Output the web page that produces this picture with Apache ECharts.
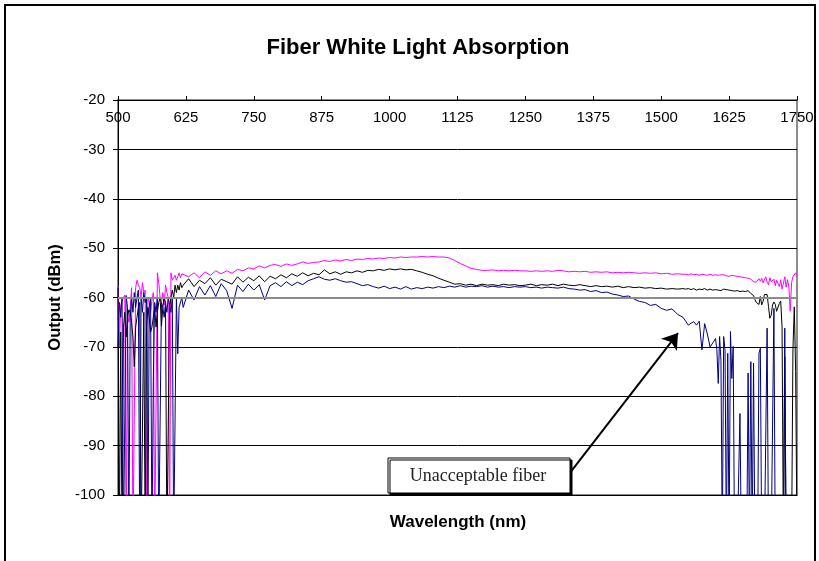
<!DOCTYPE html>
<html>
<head>
<meta charset="utf-8">
<title>Fiber White Light Absorption</title>
<script src="https://cdn.jsdelivr.net/npm/echarts@6/dist/echarts.min.js"></script>
<style>
  html, body { margin: 0; padding: 0; background: #fff; }
  #chart { width: 819px; height: 561px; }
</style>
</head>
<body>
<div id="chart"></div>
<script>
// Wavelength grid (nm): fine steps where the traces are noisy, coarser in the flat middle
const wlLeft = [
  500, 502.5, 505, 507.5, 510, 512.5, 515, 517.5, 520, 522.5,
  525, 527.5, 530, 532.5, 535, 537.5, 540, 542.5, 545, 547.5,
  550, 552.5, 555, 557.5, 560, 562.5, 565, 567.5, 570, 572.5,
  575, 577.5, 580, 582.5, 585, 587.5, 590, 592.5, 595, 597.5,
  600, 602.5, 605, 607.5, 610, 612.5, 615, 617.5
];
const wlMid = [
  620, 630, 640, 650, 660, 670, 680, 690, 700, 710,
  720, 730, 740, 750, 760, 770, 780, 790, 800, 810,
  820, 830, 840, 850, 860, 870, 880, 890, 900, 910,
  920, 930, 940, 950, 960, 970, 980, 990, 1000, 1010,
  1020, 1030, 1040, 1050, 1060, 1070, 1080, 1090, 1100, 1110,
  1120, 1130, 1140, 1150, 1160, 1170, 1180, 1190, 1200, 1210,
  1220, 1230, 1240, 1250, 1260, 1270, 1280, 1290, 1300, 1310,
  1320, 1330, 1340, 1350, 1360, 1370, 1380, 1390, 1400, 1410,
  1420, 1430, 1440, 1450, 1460, 1470, 1480, 1490, 1500, 1510,
  1520, 1530, 1540
];
const wlRight = [
  1545, 1550, 1555, 1560, 1565, 1570, 1575, 1580, 1585, 1590, 1595,
  1600, 1602.5, 1605, 1607.5, 1610, 1612.5, 1615, 1617.5, 1620, 1622.5,
  1625, 1627.5, 1630, 1632.5, 1635, 1637.5, 1640, 1642.5, 1645, 1647.5,
  1650, 1652.5, 1655, 1657.5, 1660, 1662.5, 1665, 1667.5, 1670, 1672.5,
  1675, 1677.5, 1680, 1682.5, 1685, 1687.5, 1690, 1692.5, 1695, 1697.5,
  1700, 1702.5, 1705, 1707.5, 1710, 1712.5, 1715, 1717.5, 1720, 1722.5,
  1725, 1727.5, 1730, 1732.5, 1735, 1737.5, 1740, 1742.5, 1745, 1747.5,
  1750
];

// Output (dBm); -110 marks dropouts that run off the bottom of the plot
const magentaLeft = [
  -57.5, -70, -61.5, -61.5, -60, -59.5, -110, -63, -65, -62,
  -58, -110, -110, -58, -56.5, -57.5, -58, -60, -57, -59,
  -58.5, -110, -60, -61, -63, -60.5, -59, -110, -110, -55,
  -57, -60, -61, -59, -61.5, -57.5, -59, -60, -110, -55,
  -56.5, -56, -55.5, -56.5, -55.8, -55, -56, -55.2
];
const magentaMid = [
  -55.5, -55.8, -55.0, -56.0, -54.8, -55.5, -54.6, -55.2, -54.6, -55.1,
  -54.3, -54.6, -54.0, -54.2, -53.6, -54.0, -53.5, -53.3, -53.7, -53.2,
  -53.5, -53.2, -52.8, -53.1, -52.9, -52.8, -52.5, -52.7, -52.4, -52.6,
  -52.3, -52.5, -52.2, -52.3, -52.1, -52.2, -52.0, -52.1, -51.9, -52.0,
  -51.8, -51.9, -51.8, -51.8, -51.7, -51.8, -51.7, -51.8, -51.8, -52.0,
  -52.5, -53.1, -53.6, -54.1, -54.3, -54.5, -54.5, -54.4, -54.6, -54.5,
  -54.6, -54.5, -54.6, -54.6, -54.7, -54.6, -54.7, -54.6, -54.7, -54.5,
  -54.6, -54.8, -54.7, -54.8, -54.7, -54.9, -54.8, -54.9, -54.8, -55.0,
  -54.9, -55.0, -54.9, -55.0, -55.1, -55.0, -55.1, -55.0, -55.2, -55.1,
  -55.3, -55.2, -55.3
];
const magentaRight = [
  -55.3, -55.4, -55.2, -55.4, -55.3, -55.5, -55.3, -55.4, -55.5, -55.3, -55.5,
  -55.4, -55.3, -55.5, -55.3, -55.4, -55.6, -55.4, -55.5, -55.6, -55.5,
  -55.7, -55.6, -55.5, -55.7, -55.6, -55.8, -55.7, -55.6, -55.8, -55.7,
  -55.9, -55.8, -56.0, -55.9, -56.1, -56.0, -56.3, -56.1, -56.8, -56.4,
  -56.9, -57.3, -56.2, -56.7, -56.1, -57.0, -56.6, -55.8, -56.9, -57.4,
  -56.0, -56.8, -57.2, -56.3, -57.6, -56.5, -57.2, -57.8, -56.4, -58.3,
  -57.1, -55.8, -57.9, -56.4, -57.8, -62.8, -57.0, -55.8, -56.2, -55.0,
  -55.5
];

const blackLeft = [
  -58, -110, -67, -110, -66, -63, -68, -64, -62.5, -63,
  -65, -68, -74, -66, -64, -62, -61, -110, -110, -63,
  -110, -66, -62, -64, -67, -66, -64, -62, -66, -63,
  -61, -60, -65.8, -62, -60, -61, -110, -110, -62, -60,
  -58.5, -60, -57.5, -59, -57.5, -58.5, -57, -58
];
const blackMid = [
  -57.5, -56.2, -57.8, -56.5, -57.2, -56.0, -57.5, -56.3, -56.8, -57.3,
  -55.8, -56.9, -55.9, -56.6, -55.6, -56.8, -55.7, -56.2, -55.4, -56.0,
  -55.2, -55.7, -55.0, -55.6, -55.1, -55.4, -54.4, -55.2, -54.8, -55.3,
  -54.8, -55.0, -54.6, -54.9, -54.5, -54.6, -54.3, -54.5, -54.2, -54.4,
  -54.2, -54.4, -54.3, -54.6, -54.9, -55.3, -55.6, -56.1, -56.5, -56.9,
  -57.3, -57.2, -57.5, -57.3, -57.6, -57.3, -57.5, -57.4, -57.6, -57.3,
  -57.5, -57.4, -57.6, -57.5, -57.3, -57.6, -57.4, -57.5, -57.3, -57.6,
  -57.3, -57.5, -57.6, -57.4, -57.6, -57.8, -57.6, -57.8, -57.7, -57.9,
  -57.7, -58.0, -57.8, -58.0, -57.9, -58.1, -58.0, -58.2, -58.1, -58.3,
  -58.2, -58.3, -58.2
];
const blackRight = [
  -58.3, -58.2, -58.4, -58.2, -58.5, -58.3, -58.4, -58.2, -58.5, -58.3, -58.5,
  -58.4, -58.2, -58.5, -58.3, -58.6, -58.4, -58.3, -58.6, -58.4, -58.7,
  -58.5, -58.3, -58.6, -58.5, -58.7, -58.4, -58.6, -58.5, -58.8, -58.6,
  -58.7, -58.5, -58.8, -58.7, -58.6, -58.9, -59.2, -58.8, -59.6, -60.4,
  -61.0, -60.6, -61.4, -59.8, -61.5, -60.8, -59.4, -59.0, -59.4, -61.8,
  -64.2, -63.6, -61.5, -60.9, -61.4, -62.8, -63.1, -61.2, -60.7, -66.0,
  -110, -72.0, -110, -110, -110, -110, -110, -70.6, -61.9, -75.0,
  -110
];

const navyLeft = [
  -70, -61, -64, -60, -110, -110, -59.6, -62, -110, -64,
  -60, -63, -59, -62, -60, -58.5, -110, -60, -63, -59,
  -61, -60, -110, -62, -60, -110, -77, -61, -63, -60,
  -110, -110, -61, -62, -64, -61, -63, -60, -61.5, -63,
  -60, -110, -110, -60, -71.4, -62, -61.6, -60
];
const navyMid = [
  -62.0, -58.5, -60.5, -57.8, -59.5, -57.6, -59.8, -57.2, -58.6, -62.2,
  -57.5, -58.8, -57.3, -58.5, -57.4, -60.5, -57.6, -57.0, -57.8, -56.8,
  -57.6, -56.9, -57.4, -56.6, -56.2, -55.8, -56.3, -56.5, -56.2, -56.6,
  -56.9, -56.8, -57.2, -57.6, -57.4, -57.8, -58.1, -57.7, -58.2, -57.9,
  -58.3, -57.8, -58.3, -58.0, -58.2, -57.9, -58.1, -57.8, -58.0, -57.7,
  -57.9, -57.6, -57.9, -57.7, -57.8, -57.6, -57.9, -57.7, -57.9, -57.8,
  -58.0, -57.8, -57.9, -57.8, -58.0, -57.9, -58.1, -57.9, -58.0, -58.1,
  -57.9, -58.2, -58.3, -58.5, -58.4, -58.8, -58.6, -59.0, -58.9, -59.3,
  -59.5, -59.8, -59.7, -60.3, -60.8, -61.0, -61.6, -61.4, -62.2, -62.6,
  -62.3, -63.4, -64.0
];
const navyRight = [
  -64.8, -65.6, -65.2, -64.9, -65.6, -64.8, -70.6, -65.3, -67.4, -70.0, -69.2,
  -68.3, -70.6, -77.4, -67.9, -72.7, -110, -67.9, -70.6, -110, -71.3,
  -110, -66.9, -76.4, -69.9, -110, -110, -110, -110, -83.5, -110,
  -110, -110, -110, -110, -75.3, -110, -73.0, -110, -73.3, -110,
  -110, -110, -71.3, -70.3, -110, -110, -110, -110, -66.2, -110,
  -110, -110, -110, -62.2, -110, -110, -110, -110, -110, -110,
  -110, -66.2, -110, -110, -110, -110, -110, -110, -110, -110,
  -110
];

const xTicks = { min: 500, max: 1750, step: 125 };
const yTicks = { min: -100, max: -20, step: 10 };

const wavelength = wlLeft.concat(wlMid, wlRight);

function pairs(values) {
  return wavelength.map((w, i) => [w, values[i]]);
}

const FONT = '"Liberation Sans", Arial, sans-serif';

const chart = echarts.init(document.getElementById('chart'));

chart.setOption({
  animation: false,
  backgroundColor: '#fff',
  grid: {
    left: 118, top: 100, width: 679, height: 395,
    show: true,
    backgroundColor: '#fff',
    borderColor: '#8c8c8c',
    borderWidth: 2
  },
  xAxis: {
    type: 'value',
    position: 'top',
    min: xTicks.min,
    max: xTicks.max,
    interval: xTicks.step,
    axisLine: { lineStyle: { color: '#000', width: 1 } },
    axisTick: { show: true, inside: false, length: 4, lineStyle: { color: '#000' } },
    axisLabel: {
      inside: true, margin: 10, color: '#000',
      fontSize: 15, fontFamily: FONT,
      formatter: v => String(v)
    },
    splitLine: { show: false }
  },
  yAxis: {
    type: 'value',
    min: yTicks.min,
    max: yTicks.max,
    interval: yTicks.step,
    name: 'Output (dBm)',
    nameLocation: 'middle',
    nameGap: 50,
    nameTextStyle: { color: '#000', fontSize: 16.5, fontWeight: 'bold', fontFamily: FONT },
    axisLine: { show: true, lineStyle: { color: '#000', width: 1 } },
    axisTick: { show: true, length: 5, lineStyle: { color: '#000' } },
    axisLabel: { margin: 13, color: '#000', fontSize: 15, fontFamily: FONT, formatter: v => String(v) },
    splitLine: { show: true, lineStyle: { color: '#000', width: 1 } }
  },
  series: [
    {
      type: 'line',
      data: [],
      z: 1,
      silent: true,
      markLine: {
        silent: true,
        symbol: 'none',
        label: { show: false },
        lineStyle: { color: '#8c8c8c', width: 2, type: 'solid' },
        data: [{ yAxis: -60 }]
      }
    },
    {
      name: 'Fiber A',
      type: 'line',
      data: pairs(magentaLeft.concat(magentaMid, magentaRight)),
      showSymbol: false,
      lineStyle: { color: '#ff00ff', width: 1 },
      itemStyle: { color: '#ff00ff' }
    },
    {
      name: 'Fiber B',
      type: 'line',
      data: pairs(blackLeft.concat(blackMid, blackRight)),
      showSymbol: false,
      lineStyle: { color: '#000000', width: 1 },
      itemStyle: { color: '#000000' }
    },
    {
      name: 'Unacceptable fiber',
      type: 'line',
      data: pairs(navyLeft.concat(navyMid, navyRight)),
      showSymbol: false,
      lineStyle: { color: '#000080', width: 1 },
      itemStyle: { color: '#000080' },
      markLine: {
        silent: true,
        symbol: ['none', 'arrow'],
        symbolSize: 15,
        label: { show: false },
        lineStyle: { color: '#000', width: 2, type: 'solid' },
        data: [[{ coord: [1332, -95.5] }, { coord: [1531, -67.2] }]]
      }
    }
  ],
  graphic: [
    {
      type: 'rect',
      silent: true,
      z: 100,
      shape: { x: 5, y: 5, width: 810, height: 600 },
      style: { fill: 'none', stroke: '#000', lineWidth: 2 }
    },
    {
      type: 'text',
      silent: true,
      z: 100,
      x: 418, y: 48,
      style: {
        text: 'Fiber White Light Absorption',
        align: 'center', verticalAlign: 'middle',
        fill: '#000', font: 'bold 22px ' + FONT
      }
    },
    {
      type: 'text',
      silent: true,
      z: 100,
      x: 458, y: 522,
      style: {
        text: 'Wavelength (nm)',
        align: 'center', verticalAlign: 'middle',
        fill: '#000', font: 'bold 17px ' + FONT
      }
    },
    {
      type: 'rect',
      silent: true,
      z: 100,
      shape: { x: 388, y: 458, width: 182, height: 35 },
      style: {
        fill: '#fff', stroke: '#000', lineWidth: 1,
        shadowColor: '#000', shadowOffsetX: 2, shadowOffsetY: 2, shadowBlur: 0
      }
    },
    {
      type: 'text',
      silent: true,
      z: 101,
      x: 478, y: 476,
      style: {
        text: 'Unacceptable fiber',
        align: 'center', verticalAlign: 'middle',
        fill: '#222', font: '18px "Liberation Serif", "DejaVu Serif", serif'
      }
    }
  ]
});
</script>
</body>
</html>
